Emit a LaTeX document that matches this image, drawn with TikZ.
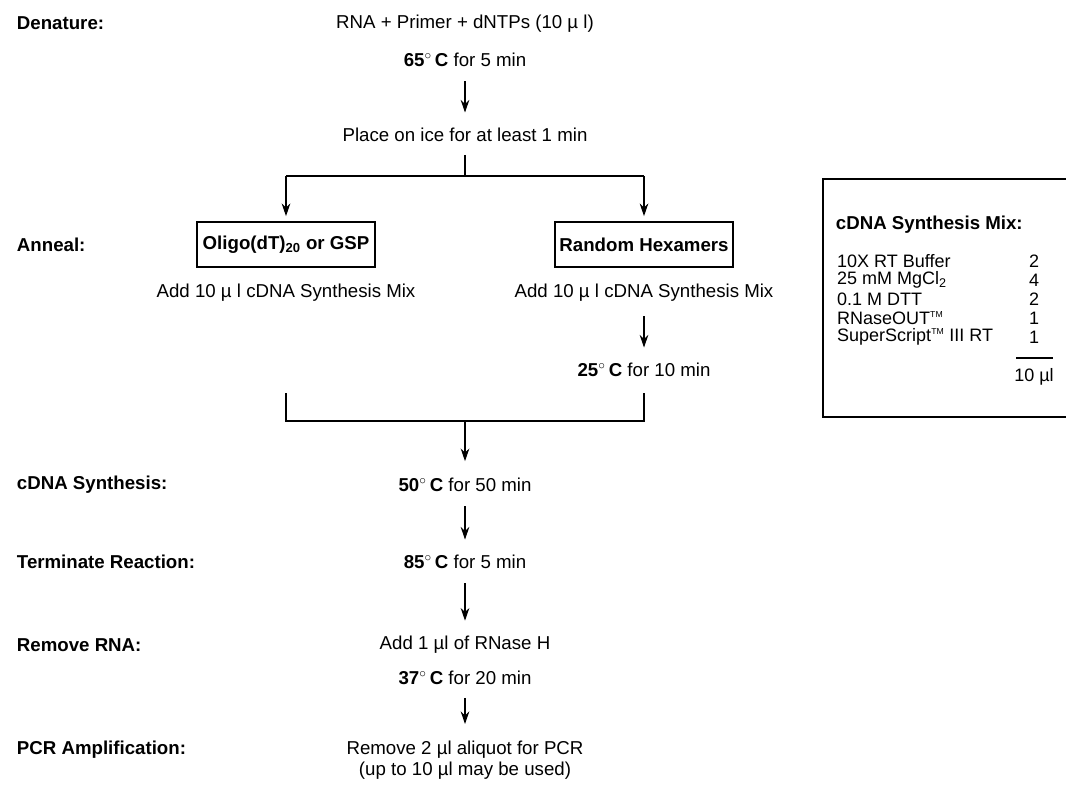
\documentclass[tikz,border=0pt]{standalone}
\usepackage{fontspec}
\setmainfont{Liberation Sans}
\usepackage{tikz}
\usetikzlibrary{arrows.meta}
\tikzset{every node/.append style={font=\fontsize{14}{16.5}\selectfont}}
\tikzset{
  stage/.style={anchor=west, font=\fontsize{14}{16.5}\selectfont\bfseries},
  primerbox/.style={draw, minimum width=133.5pt, minimum height=33.75pt, inner sep=2pt, font=\fontsize{14}{16.5}\selectfont\bfseries},
  mixrow/.style={inner sep=0.5pt, font=\fontsize{13.5}{15}\selectfont},
  flow/.style={->, shorten <=7pt, shorten >=8pt},
}
\newcommand{\tmark}{\textsuperscript{\fontsize{6.5}{7}\selectfont TM}}

\begin{document}
\begin{tikzpicture}[x=0.75pt, y=-0.75pt, >={Stealth[length=9.5pt,width=6.5pt]}, line width=0.8pt]
    \useasboundingbox (0,0) rectangle (1066,785);
    % stage names
    \node[stage] (denature) at (12,23) {Denature:};
    \node[stage] (anneal) at (12,245) {Anneal:};
    \node[stage] (synth) at (12,485) {cDNA Synthesis:};
    \node[stage] (terminate) at (12,562) {Terminate Reaction:};
    \node[stage] (removerna) at (12,645) {Remove RNA:};
    \node[stage] (pcramp) at (12,750) {PCR Amplification:};
    % steps
    \node (rnamix) at (465,24) {RNA + Primer + dNTPs (10 µ l)};
    \node (heat65) at (465,60) {\textbf{65$^{\circ}$\,C} for 5 min};
    \node (ice) at (465,135) {Place on ice for at least 1 min};
    \node[primerbox] (oligo) at (286,244.5) {Oligo(dT)\textsubscript{20} or GSP};
    \node[primerbox] (hexa) at (644,244.5) {Random Hexamers};
    \node (addL) at (286,293) {Add 10 µ l cDNA Synthesis Mix};
    \node (addR) at (644,293) {Add 10 µ l cDNA Synthesis Mix};
    \node (heat25) at (644,370) {\textbf{25$^{\circ}$\,C} for 10 min};
    \node (heat50) at (465,485) {\textbf{50$^{\circ}$\,C} for 50 min};
    \node (heat85) at (465,562) {\textbf{85$^{\circ}$\,C} for 5 min};
    \node (rnaseh) at (465,645) {Add 1 µl of RNase H};
    \node (heat37) at (465,678) {\textbf{37$^{\circ}$\,C} for 20 min};
    \node[align=center, font=\fontsize{14}{15.5}\selectfont] (aliquot) at (465,760) {Remove 2 µl aliquot for PCR\\(up to 10 µl may be used)};
    % split and join points
    \coordinate (split) at (465,176);
    \coordinate (splitL) at (286,176);
    \coordinate (splitR) at (644,176);
    \coordinate (joinLtop) at (286,393);
    \coordinate (joinRtop) at (644,393);
    \coordinate (joinL) at (286,421);
    \coordinate (joinR) at (644,421);
    \coordinate (join) at (465,421);
    % connectors
    \draw[flow] (heat65) -- (ice);
    \draw[shorten <=6pt] (ice) -- (split);
    \draw (splitL) -- (splitR);
    \draw[->, shorten >=4pt] (splitL) -- (oligo);
    \draw[->, shorten >=4pt] (splitR) -- (hexa);
    \draw[flow] (addR) -- (heat25);
    \draw (joinLtop) -- (joinL) -- (joinR) -- (joinRtop);
    \draw[->, shorten >=9pt] (join) -- (heat50);
    \draw[flow] (heat50) -- (heat85);
    \draw[flow] (heat85) -- (rnaseh);
    \draw[->, shorten <=6pt, shorten >=9pt] (heat37) -- (aliquot);
    % synthesis mix panel
    \draw (1066,179) -- (823,179) -- (823,417) -- (1066,417);
    \node[stage] (mixhead) at (831,225) {cDNA Synthesis Mix:};
    \node[mixrow, anchor=west] (buffer) at (836,261) {10X RT Buffer};
    \node[mixrow, anchor=west] (mgcl) at (836,280) {25 mM MgCl\textsubscript{2}};
    \node[mixrow, anchor=west] (dtt) at (836,299) {0.1 M DTT};
    \node[mixrow, anchor=west] (rnaseout) at (836,318) {RNaseOUT\tmark};
    \node[mixrow, anchor=west] (sscript) at (836,337) {SuperScript\tmark{} III RT};
    \node[mixrow] (bufferv) at (1034,261) {2};
    \node[mixrow] (mgclv) at (1034,280) {4};
    \node[mixrow] (dttv) at (1034,299) {2};
    \node[mixrow] (rnaseoutv) at (1034,318) {1};
    \node[mixrow] (sscriptv) at (1034,337) {1};
    \draw (1016,358) -- (1053,358);
    \node[mixrow] (total) at (1034,377) {10 µl};
\end{tikzpicture}
\end{document}
